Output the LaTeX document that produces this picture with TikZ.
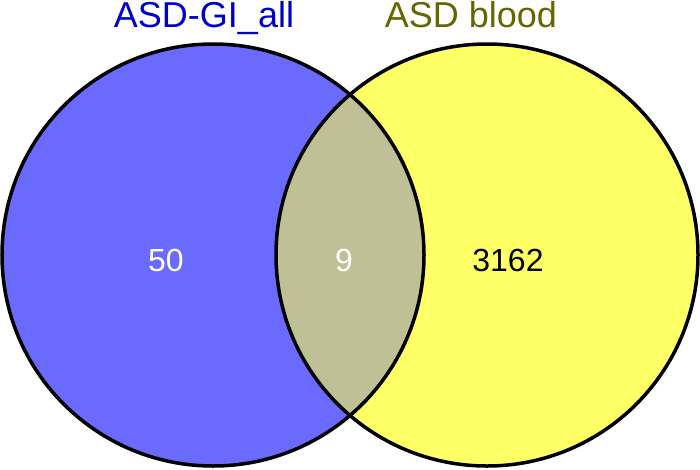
\documentclass[tikz,border=0pt]{standalone}
\usepackage{fontspec}
\setmainfont{Liberation Sans}
\definecolor{setA}{RGB}{106,106,255}
\definecolor{setB}{RGB}{255,255,102}
\definecolor{setAB}{RGB}{192,192,150}
\definecolor{titleA}{RGB}{0,0,204}
\definecolor{titleB}{RGB}{102,102,0}
\begin{document}
\begin{tikzpicture}[x=1pt,y=1pt,
  outline/.style={line width=3.5pt,draw=black},
  title/.style={font=\fontsize{36}{40}\selectfont,inner sep=0pt,anchor=base},
  count/.style={font=\fontsize{32}{36}\selectfont,inner sep=0pt}]
\useasboundingbox (0,0) rectangle (700,-469);
\coordinate (ca) at (213,-255);
\coordinate (cb) at (487,-255);
\fill[setA] (ca) circle (211);
\fill[setB] (cb) circle (211);
\begin{scope}
  \clip (ca) circle (211);
  \fill[setAB] (cb) circle (211);
\end{scope}
\draw[outline] (ca) circle (211);
\draw[outline] (cb) circle (211);
\node[title,text=titleA] (ta) at (204,-27) {ASD-GI\_all};
\node[title,text=titleB] (tb) at (471,-27) {ASD blood};
\node[count,text=white] (na) at (166,-260) {50};
\node[count,text=white] (nab) at (344,-260) {9};
\node[count,text=black] (nb) at (508,-260) {3162};
\end{tikzpicture}
\end{document}
